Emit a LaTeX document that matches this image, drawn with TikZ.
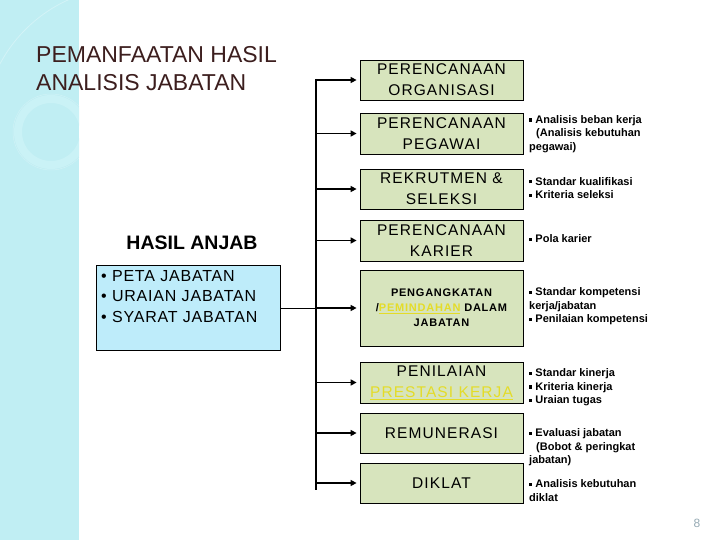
\documentclass[tikz,border=0pt]{standalone}
\usepackage{fontspec}
\setmainfont{Liberation Sans}
\newfontfamily\boxfont[LetterSpace=7]{Liberation Sans}
\newfontfamily\anjabfont[LetterSpace=5]{Liberation Sans}
\usetikzlibrary{arrows.meta}
\definecolor{stripcol}{RGB}{192,238,243}
\definecolor{ringcol}{RGB}{202,242,246}
\definecolor{titlecol}{RGB}{60,30,30}
\definecolor{boxgreen}{RGB}{215,228,189}
\definecolor{boxblue}{RGB}{190,236,250}
\definecolor{hlyellow}{RGB}{228,220,40}
\definecolor{pagecol}{RGB}{150,170,180}
\newcommand{\sqb}{\rule[1.8pt]{3.2pt}{3.2pt}\ }
\tikzset{
  planbox/.style={draw=black, line width=0.8pt, fill=boxgreen, minimum width=163pt,
    align=center, inner sep=0pt, font=\boxfont\fontsize{15.5}{21}\selectfont},
  notes/.style={anchor=west, align=left, inner sep=0pt,
    font=\bfseries\fontsize{11}{13.5}\selectfont},
  conn/.style={line width=1.8pt, -{Triangle[length=6pt,width=6pt]}},
}
\begin{document}
\begin{tikzpicture}[x=1pt,y=-1pt]
\useasboundingbox (0,0) rectangle (720,540);
\fill[white] (0,0) rectangle (720,540);
% left strip with faint rings
\fill[stripcol] (0,0) rectangle (79,540);
\begin{scope}
\clip (0,0) rectangle (79,540);
\draw[ringcol, line width=8pt] (51,132) circle[radius=33];
\draw[white!25!stripcol, line width=0.5pt] (51,132) circle[radius=38];
\begin{scope}
\clip (0,0) rectangle (79,75);
\draw[white!30!stripcol, line width=0.8pt] (128,132) circle[radius=145];
\end{scope}
\end{scope}
% title
\node[anchor=north west, align=left, inner sep=0pt, text=titlecol,
  font=\fontsize{23}{28}\selectfont] (title) at (36,46) {PEMANFAATAN HASIL\\ANALISIS JABATAN};
% hasil anjab
\node[font=\bfseries\fontsize{19.5}{22}\selectfont, inner sep=0pt, anchor=base] (anjabhead) at (192,249) {HASIL ANJAB};
\node[draw=black, line width=0.9pt, fill=boxblue, minimum width=184pt, minimum height=85pt,
  anchor=north west, inner sep=0pt] (anjab) at (96,265) {};
\node[anchor=north west, align=left, inner sep=0pt,
  font=\anjabfont\fontsize{16}{20.5}\selectfont] (anjabtext) at (101,270)
  {• PETA JABATAN\\• URAIAN JABATAN\\• SYARAT JABATAN};
% boxes
\node[planbox, minimum height=40pt] (org) at (441.5,80) {PERENCANAAN\\ORGANISASI};
\node[planbox, minimum height=41pt] (peg) at (441.5,133.5) {PERENCANAAN\\PEGAWAI};
\node[planbox, minimum height=40pt] (rek) at (441.5,189) {REKRUTMEN \&\\SELEKSI};
\node[planbox, minimum height=41pt] (kar) at (441.5,240.5) {PERENCANAAN\\KARIER};
\node[planbox, minimum height=76pt, font=\boxfont\bfseries\fontsize{11}{15}\selectfont] (peng) at (441.5,308)
  {PENGANGKATAN\\/{\color{hlyellow}\underline{PEMINDAHAN}} DALAM\\JABATAN};
\node[planbox, minimum height=41pt] (pen) at (441.5,382.5) {PENILAIAN\\{\color{hlyellow}\underline{PRESTASI KERJA}}};
\node[planbox, minimum height=40pt] (rem) at (441.5,433) {REMUNERASI};
\node[planbox, minimum height=40pt] (dik) at (441.5,483) {DIKLAT};
% trunk
\coordinate (ttop) at (316,79);
\coordinate (tbot) at (316,489.5);
\draw[line width=1.3pt] (ttop) -- (tbot);
\draw[line width=1pt] (anjab.east |- peng.west) -- (316,308);
\foreach \b in {org,peg,rek,kar,peng,pen,rem,dik}{
  \draw[conn] (316,0 |- \b.west) -- ([xshift=-3pt]\b.west);
}
% notes
\node[notes] (npeg) at (529,134) {\sqb Analisis beban kerja\\\hspace*{7pt}(Analisis kebutuhan\\pegawai)};
\node[notes] (nrek) at (529,188) {\sqb Standar kualifikasi\\\sqb Kriteria seleksi};
\node[notes] (nkar) at (529,239) {\sqb Pola karier};
\node[notes] (npeng) at (529,306.6) {\sqb Standar kompetensi\\kerja/jabatan\\\sqb Penilaian kompetensi};
\node[notes] (npen) at (529,387.6) {\sqb Standar kinerja\\\sqb Kriteria kinerja\\\sqb Uraian tugas};
\node[notes] (nrem) at (529,447.6) {\sqb Evaluasi jabatan\\\hspace*{7pt}(Bobot \& peringkat\\jabatan)};
\node[notes] (ndik) at (529,490.7) {\sqb Analisis kebutuhan\\diklat};
% page number
\node[text=pagecol, font=\fontsize{12}{14}\selectfont, anchor=base, inner sep=0pt] (pnum) at (697,527) {8};
\end{tikzpicture}
\end{document}
